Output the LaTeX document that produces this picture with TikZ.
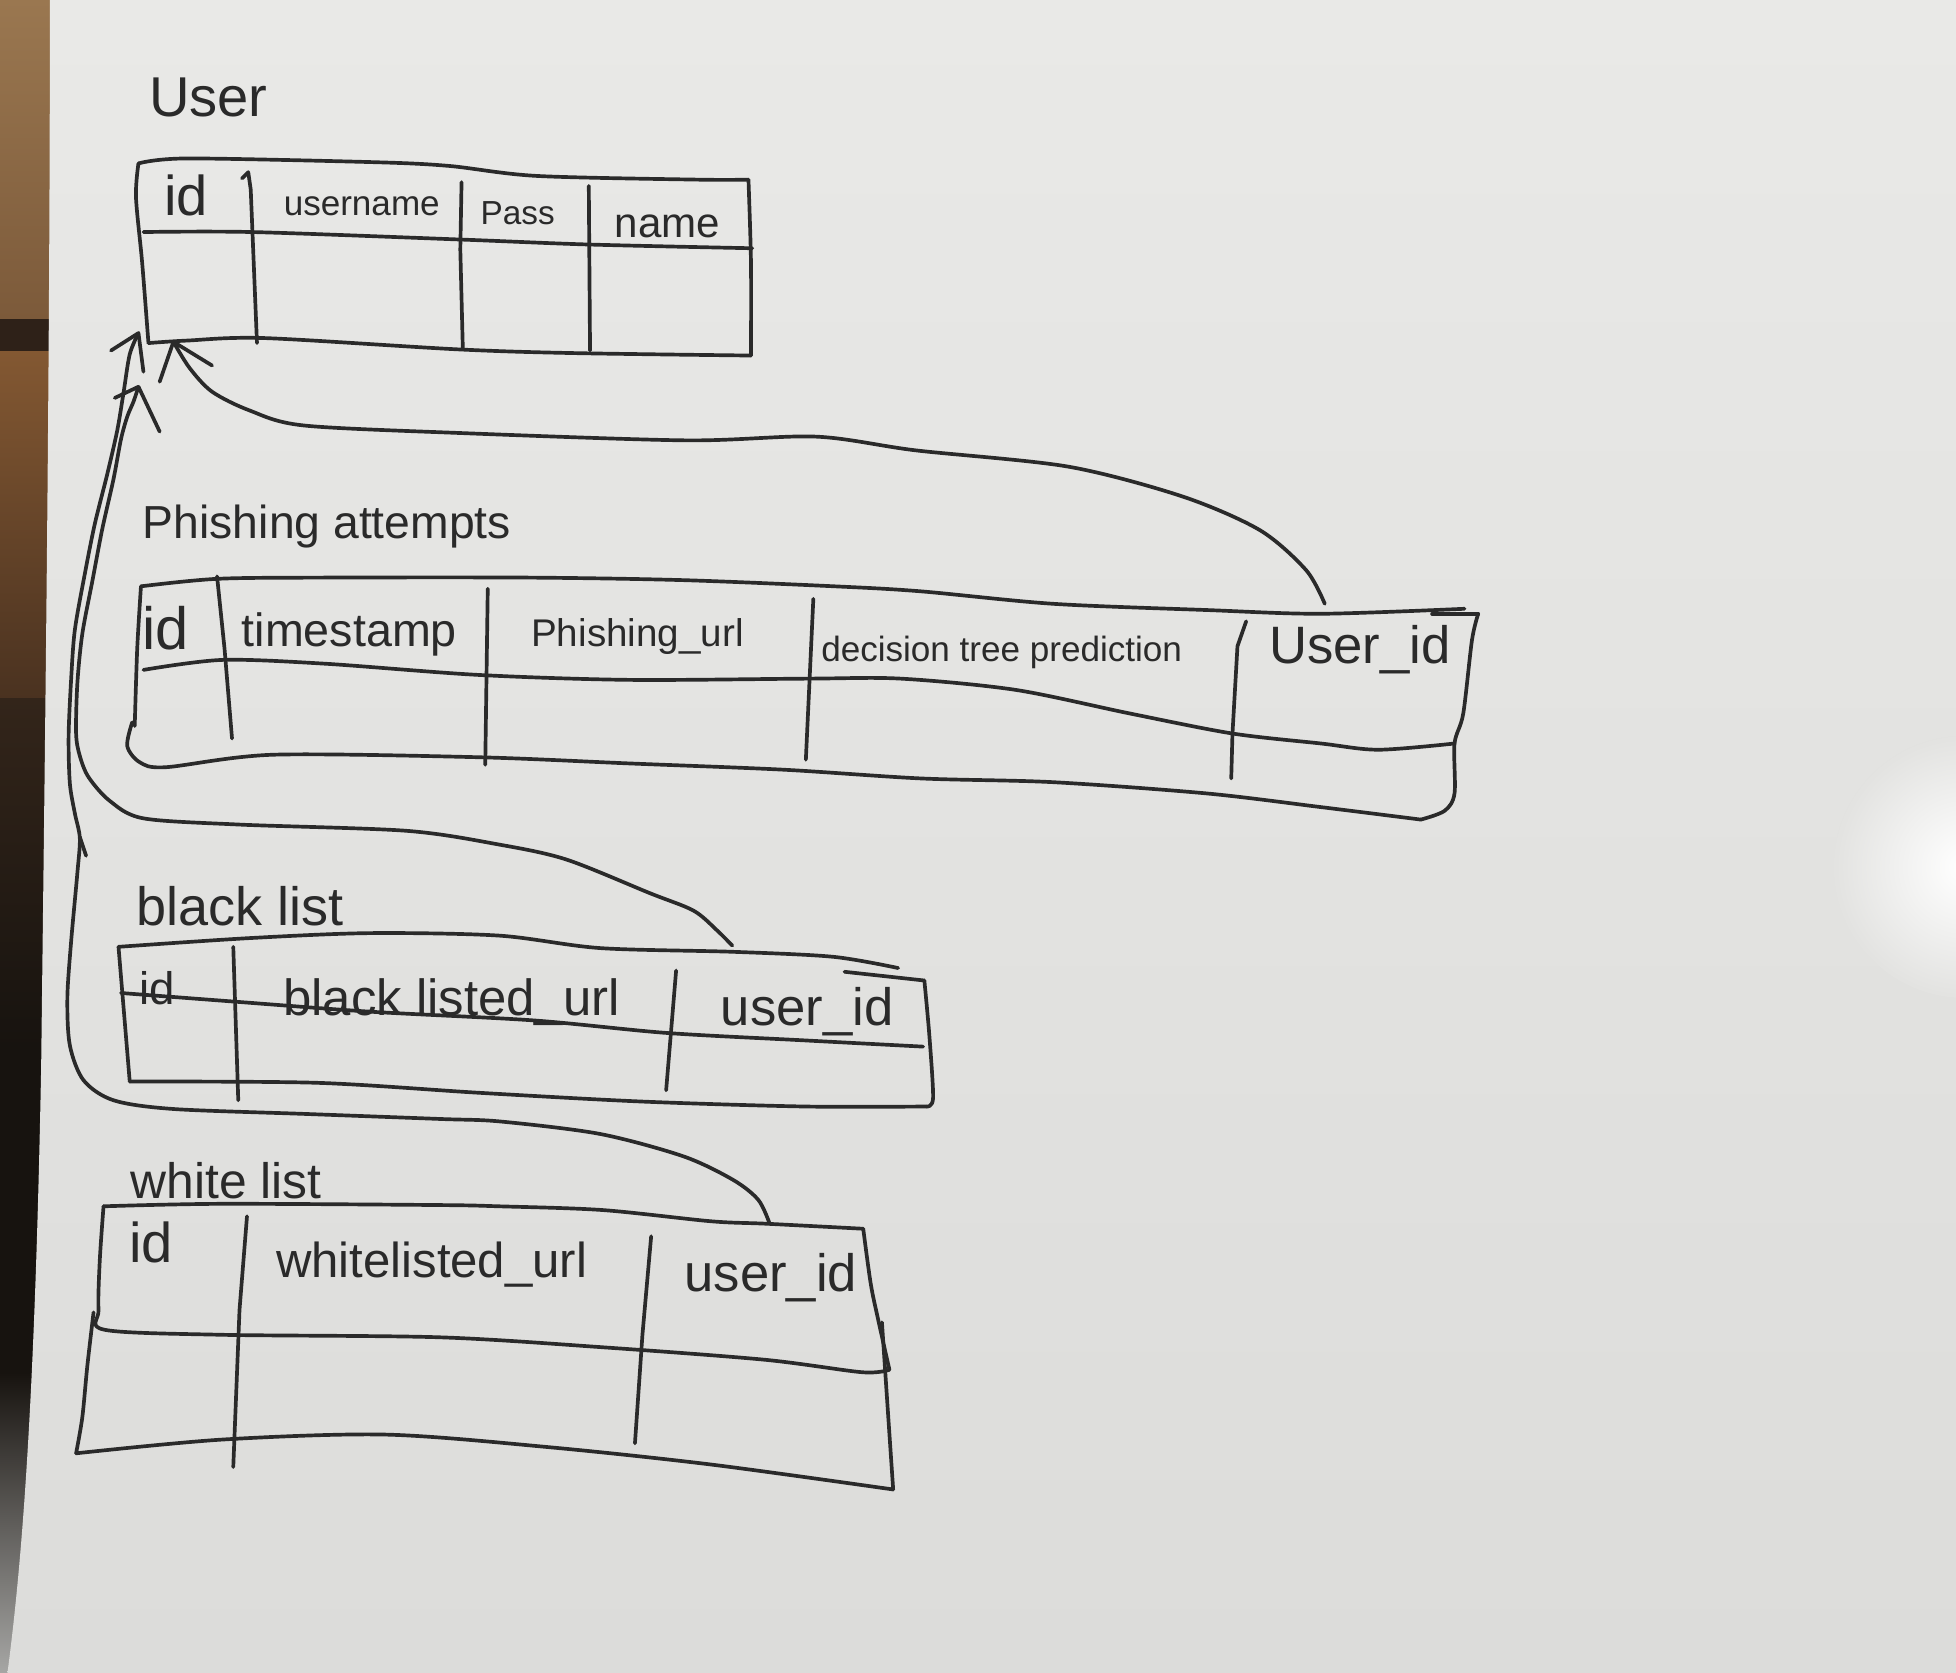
\documentclass[tikz,border=0pt]{standalone}
\usepackage{fontspec}
\setmainfont{Liberation Sans}

\definecolor{ink}{HTML}{2A2A2A}
\definecolor{paperT}{HTML}{E9E9E7}
\definecolor{paperB}{HTML}{DCDCDA}
\definecolor{woodA}{HTML}{9A7750}
\definecolor{woodB}{HTML}{7C5A3A}
\definecolor{woodGap}{HTML}{2E2118}
\definecolor{woodC}{HTML}{835832}
\definecolor{woodD}{HTML}{4A3220}
\definecolor{shadowA}{HTML}{33251A}
\definecolor{shadowB}{HTML}{17130F}
\definecolor{floorG}{HTML}{A6A6A4}

\newcommand\hwsize[1]{\fontsize{#1}{#1}\selectfont}

\begin{document}
\begin{tikzpicture}[x=0.0125cm, y=-0.0125cm,
  pen/.style={draw=ink, line width=1.05pt, line cap=round, line join=round},
  hand/.style={anchor=base, inner sep=0pt, text=ink}]

\useasboundingbox (0,0) rectangle (1568,1341);

% desk under the sheet, left edge
\shade[top color=woodA, bottom color=woodB] (0,0) rectangle (60,256);
\fill[woodGap] (0,256) rectangle (60,282);
\shade[top color=woodC, bottom color=woodD] (0,282) rectangle (60,560);
\shade[top color=shadowA, bottom color=shadowB] (0,560) rectangle (60,840);
\fill[shadowB] (0,840) rectangle (60,1100);
\shade[top color=shadowB, bottom color=floorG] (0,1100) rectangle (60,1341);

% the sheet of paper
\shade[top color=paperT, bottom color=paperB]
  (40,0) -- (1568,0) -- (1568,1341) -- (6,1341)
  .. controls (18,1250) and (28,1120) .. (33,855)
  .. controls (36,600) and (40,300) .. (40,0) -- cycle;
% soft light spot on the right edge of the sheet
\begin{scope}
  \clip (1350,550) rectangle (1568,850);
  \shade[inner color=white, outer color=paperT!50!paperB] (1575,695) circle (105);
\end{scope}

% ---------------- User ----------------
\node[hand, font=\hwsize{16}] (t-user) at (167,93) {User};
\draw[pen] plot[smooth,tension=.5] coordinates {(111,131) (150,127) (300,130) (360,133) (430,141) (560,144) (600,144)};
\draw[pen] plot[smooth,tension=.5] coordinates {(600,144) (602,210) (602,285)};
\draw[pen] plot[smooth,tension=.5] coordinates {(602,285) (458,283) (366,280) (212,271) (150,273) (119,275)};
\draw[pen] plot[smooth,tension=.5] coordinates {(119,275) (114,211) (109,158) (111,131)};
\draw[pen] plot[smooth,tension=.5] coordinates {(115,186) (202,186) (369,192) (472,196) (603,199)};
\draw[pen] (194,143) -- (199,138) -- (201,152) -- (206,275);
\draw[pen] (370,146) -- (369,200) -- (371,279);
\draw[pen] (472,149) -- (473,281);
\node[hand, font=\hwsize{16}] (u-id) at (149,173) {id};
\node[hand, font=\hwsize{10}] (u-username) at (290,173) {username};
\node[hand, font=\hwsize{9.5}] (u-pass) at (415,180) {Pass};
\node[hand, font=\hwsize{12}] (u-name) at (535,190) {name};

% ---------------- Phishing attempts ----------------
\node[hand, anchor=base west, font=\hwsize{13.2}] (t-phish) at (114,432) {Phishing attempts};
\draw[pen] plot[smooth,tension=.5] coordinates {(113,470) (174,464) (260,463) (423,463) (546,465) (669,470) (738,474) (844,484) (967,489) (1059,492) (1174,488)};
\draw[pen] (1148,492) -- (1185,492);
\draw[pen] plot[smooth,tension=.5] coordinates {(1185,492) (1180,513) (1173,572) (1166,596) (1166,636) (1158,650) (1139,657)};
\draw[pen] plot[smooth,tension=.5] coordinates {(1139,657) (1059,647) (967,636) (844,627) (738,624) (628,617) (505,612) (383,607) (219,605) (133,615) (112,611) (102,598) (106,579)};
\draw[pen] plot[smooth,tension=.5] coordinates {(113,470) (110,520) (108,582)};
\draw[pen] plot[smooth,tension=.5] coordinates {(115,537) (178,529) (260,532) (383,541) (505,545) (648,544) (722,544) (814,553) (906,572) (988,588) (1059,596) (1105,601) (1166,596)};
\draw[pen] (174,462) -- (180,520) -- (186,592);
\draw[pen] (391,472) -- (389,613);
\draw[pen] (652,480) -- (646,609);
\draw[pen] (999,498) -- (992,518) -- (988,588) -- (987,624);
\node[hand, font=\hwsize{17}] (p-id) at (133,521) {id};
\node[hand, font=\hwsize{13.3}] (p-ts) at (280,518) {timestamp};
\node[hand, font=\hwsize{11}] (p-url) at (511,518) {Phishing\_url};
\node[hand, font=\hwsize{10}] (p-dt) at (803,530) {decision tree prediction};
\node[hand, font=\hwsize{15}] (p-uid) at (1090,532) {User\_id};

% ---------------- black list ----------------
\node[hand, anchor=base west, font=\hwsize{15.4}] (t-black) at (109,742) {black list};
\draw[pen] plot[smooth,tension=.5] coordinates {(95,759) (200,752) (297,748) (400,750) (481,760) (588,763) (668,767) (720,776)};
\draw[pen] (677,779) -- (741,786);
\draw[pen] plot[smooth,tension=.5] coordinates {(741,786) (745,830) (748,880) (743,887)};
\draw[pen] plot[smooth,tension=.5] coordinates {(743,887) (645,887) (514,883) (384,876) (254,868) (104,867)};
\draw[pen] (104,867) -- (95,759);
\draw[pen] plot[smooth,tension=.5] coordinates {(97,796) (189,803) (297,811) (428,818) (534,828) (645,834) (740,839)};
\draw[pen] (187,759) -- (191,882);
\draw[pen] (542,778) -- (534,874);
\node[hand, font=\hwsize{13}] (b-id) at (126,805) {id};
\node[hand, font=\hwsize{14.5}] (b-url) at (362,814) {black listed\_url};
\node[hand, font=\hwsize{15}] (b-uid) at (647,822) {user\_id};

% ---------------- white list ----------------
\node[hand, anchor=base west, font=\hwsize{14.2}] (t-white) at (104,961) {white list};
\draw[pen] plot[smooth,tension=.5] coordinates {(83,967) (178,965) (352,966) (400,967) (483,970) (570,979) (615,981) (692,985)};
\draw[pen] plot[smooth,tension=.5] coordinates {(692,985) (698,1029) (704,1058) (713,1098)};
\draw[pen] plot[smooth,tension=.5] coordinates {(83,967) (80,1010) (79,1050) (84,1066) (178,1070) (352,1072) (483,1080) (613,1090) (691,1100) (713,1098)};
\draw[pen] plot[smooth,tension=.5] coordinates {(75,1052) (70,1095) (66,1136) (61,1165)};
\draw[pen] plot[smooth,tension=.5] coordinates {(61,1165) (178,1154) (309,1150) (439,1160) (570,1174) (716,1194)};
\draw[pen] plot[smooth,tension=.5] coordinates {(707,1060) (711,1120) (716,1194)};
\draw[pen] (198,975) -- (192,1050) -- (187,1176);
\draw[pen] (522,991) -- (515,1070) -- (509,1157);
\node[hand, font=\hwsize{16}] (w-id) at (121,1012) {id};
\node[hand, font=\hwsize{14}] (w-url) at (346,1024) {whitelisted\_url};
\node[hand, font=\hwsize{15}] (w-uid) at (618,1035) {user\_id};

% ---------------- foreign keys back to User ----------------
\coordinate (pa-uid) at (1062,484);
\coordinate (bl-uid) at (587,758);
\coordinate (wl-uid) at (617,981);
\coordinate (u-inA) at (139,274);
\coordinate (u-inB) at (111,267);
\coordinate (u-inC) at (111,310);

\draw[pen] plot[smooth,tension=.5] coordinates {(pa-uid) (1047,457) (1010,425) (948,398) (856,374) (734,361) (654,350) (550,353) (366,347) (243,341) (200,329) (170,314) (152,295) (u-inA)};
\draw[pen] (u-inA) ++(31,19) -- (u-inA) -- ++(-11,32);

\draw[pen] plot[smooth,tension=.5] coordinates {(bl-uid) (575,746) (556,730) (521,716) (454,689) (400,677) (326,666) (192,661) (115,656) (88,642) (71,623) (64,606) (61,588) (62,548) (66,508) (74,466) (82,424) (91,384) (97,352) (102,334) (107,322) (u-inC)};
\draw[pen] (u-inC) ++(-19,9) -- (u-inC) -- ++(17,36);

\draw[pen] plot[smooth,tension=.5] coordinates {(wl-uid) (608,962) (588,946) (548,927) (481,909) (401,899) (353,897) (246,893) (139,889) (91,882) (67,866) (56,838) (54,800) (57,755) (62,700) (64,672) (60,652) (56,628) (55,590) (57,545) (60,505) (68,460) (76,420) (86,380) (94,345) (99,315) (104,284) (u-inB)};
\draw[pen] (u-inB) ++(-22,14) -- (u-inB) -- ++(4,31);
\draw[pen] (64,671) -- (69,686);

\end{tikzpicture}
\end{document}
